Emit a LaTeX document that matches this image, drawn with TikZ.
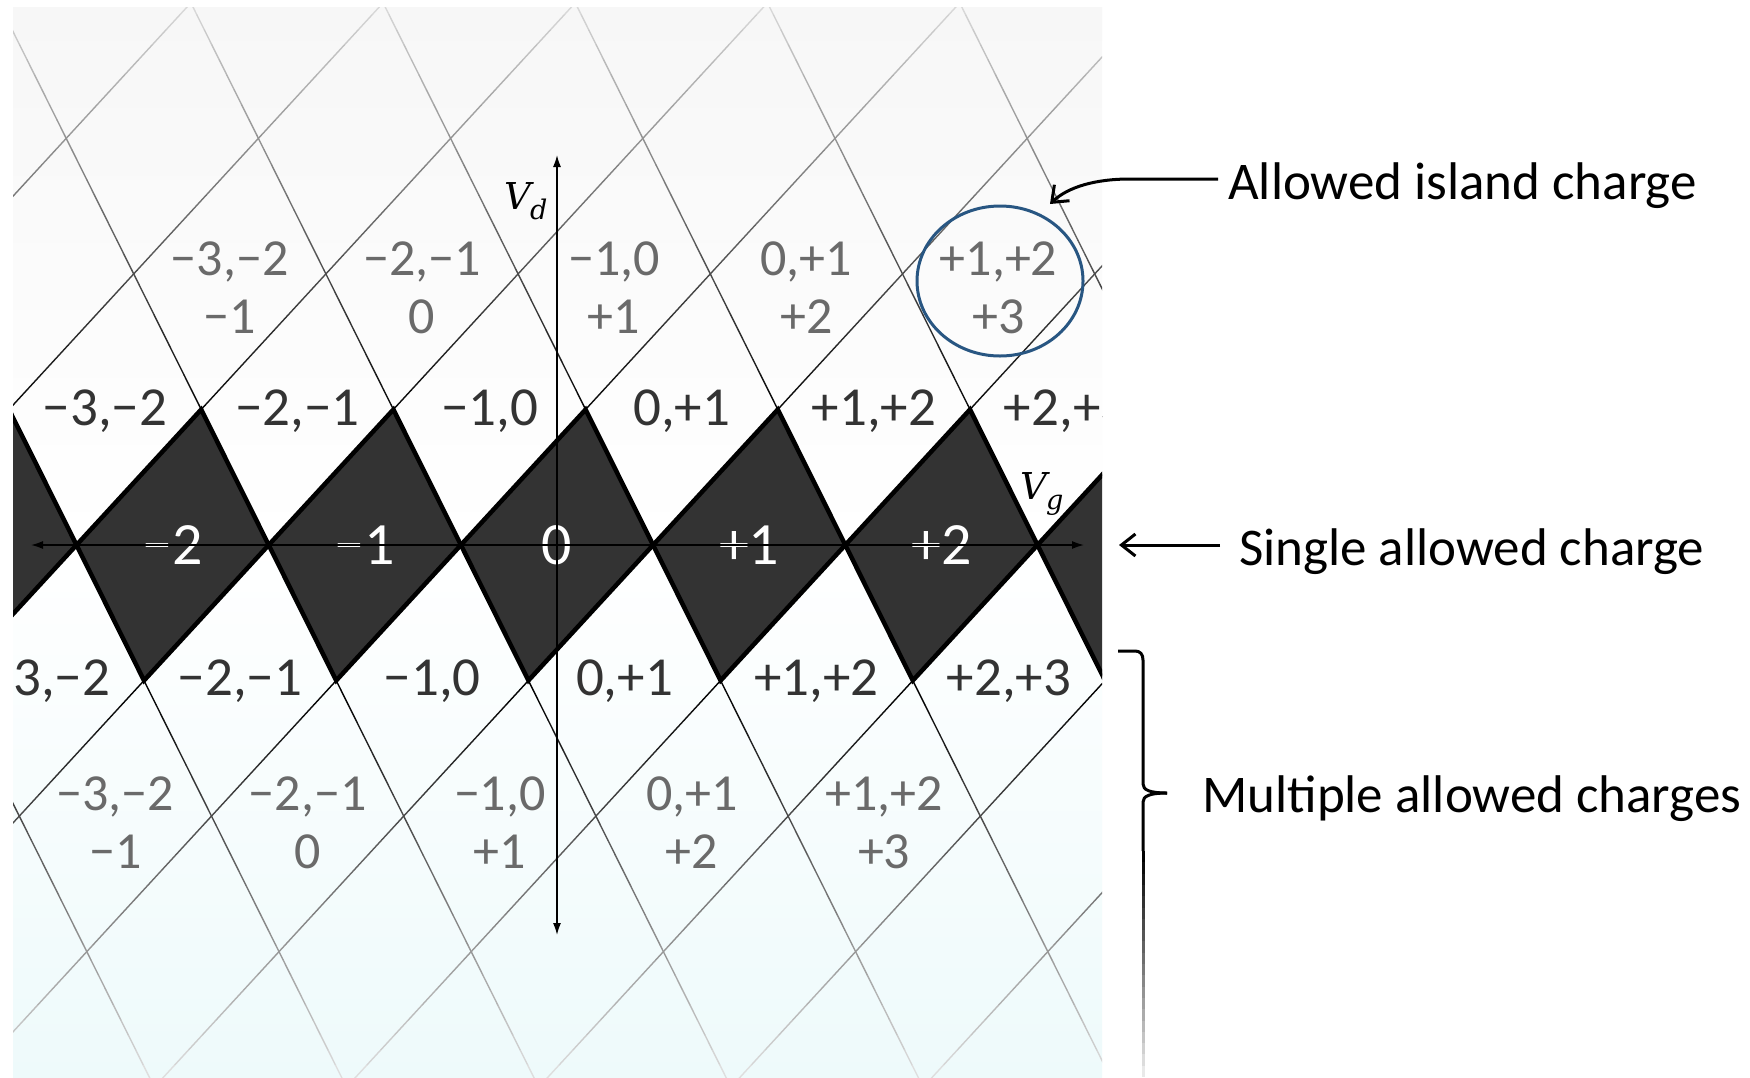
\RequirePackage{fix-cm}
\documentclass[tikz,border=0pt]{standalone}
\usepackage{fontspec}
\setmainfont{Carlito}
\newfontfamily\cdserif{DejaVu Serif}
\usepackage{tikz}
\usetikzlibrary{arrows.meta,calc,shapes.geometric}
\definecolor{cdedge}{RGB}{0,0,0}
\definecolor{cddia}{RGB}{51,51,51}
\definecolor{cdink}{RGB}{51,51,51}
\definecolor{cdgrey}{RGB}{106,106,106}
\definecolor{cdblue}{RGB}{40,86,130}
\definecolor{cdtop}{RGB}{247,247,247}
\definecolor{cdbot}{RGB}{238,250,251}
\tikzset{
  gline/.style={line width=1.4pt, line cap=round},
  dia/.style={fill=cddia, draw=cdedge, line width=4.5pt, line join=miter},
  lbl/.style={font=\fontsize{55}{60}\selectfont, text=cdink, inner sep=0pt, anchor=base},
  glbl/.style={font=\fontsize{52}{58}\selectfont, text=cdgrey, inner sep=0pt, anchor=base, align=center},
  wlbl/.style={font=\fontsize{60}{66}\selectfont, text=white, inner sep=0pt, anchor=base},
  axlbl/.style={font=\fontsize{37}{40}\selectfont\cdserif\itshape, inner sep=0pt},
  axarr/.style={{Latex[length=12pt,width=8pt]}-{Latex[length=12pt,width=8pt]}, draw=cdedge, line width=1.5pt},
  isl/.style={ellipse, draw=cdblue, line width=3pt, minimum width=166pt, minimum height=150pt, inner sep=0pt},
  anno/.style={font=\fontsize{53}{60}\selectfont, inner sep=0pt, anchor=west, text height=40pt, text depth=0pt},
  arr/.style={-{Straight Barb[length=14pt,width=22pt]}, draw=black, line width=3pt},
  brc/.style={draw=black, line width=3pt}
}
\newcommand{\cdsub}[1]{\raisebox{-10pt}{\fontsize{27}{30}\selectfont #1}}
\begin{document}
\begin{tikzpicture}[x=1pt, y=-1pt]
  \useasboundingbox (0,0) rectangle (1750,1077);
  \fill[white] (0,0) rectangle (1750,1077);
  \shade[top color=cdtop, bottom color=white] (13,7) rectangle (1102,545);
  \shade[top color=white, bottom color=cdbot] (13,545) rectangle (1102,1077);
  \begin{scope}
    \clip (13,7) rectangle (1102,1077);
    \foreach \j in {0,...,72} {
      \pgfmathsetmacro{\ya}{\j*15}
      \pgfmathsetmacro{\yb}{\ya+15}
      \pgfmathsetmacro{\ym}{\ya+7.5}
      \pgfmathsetmacro{\p}{\ym<420 ? max(15,15+(\ym-7)/413*85) : (\ym>690 ? max(12,100-(\ym-690)/387*88) : 100)}
      \pgfmathsetmacro{\da}{545-\ya}
      \pgfmathsetmacro{\db}{545-\yb}
      \foreach \k in {-5,...,6} {
        \pgfmathsetmacro{\xk}{557+192.2*(\k-0.5)}
        \draw[gline, draw=black!\p] ({\xk+0.92*\da},\ya) -- ({\xk+0.92*\db},\yb);
        \draw[gline, draw=black!\p] ({\xk-0.498*\da},\ya) -- ({\xk-0.498*\db},\yb);
      }
    }
    \foreach \k in {-3,...,3} {
      \pgfmathsetmacro{\xk}{557+192.2*(\k-0.5)}
      \filldraw[dia] (\xk,545) -- (\xk+124.7,409.5) -- (\xk+192.2,545) -- (\xk+67.5,680.5) -- cycle;
    }
    \foreach \k/\t [count=\i] in {-3/{−3,−2},-2/{−2,−1},-1/{−1,0},0/{0,+1},1/{+1,+2},2/{+2,+3}} {
      \pgfmathsetmacro{\xk}{557+192.2*(\k-0.5)}
      \node[lbl] (up\i) at (\xk+220.8,425) {\t};
      \node[lbl] (dn\i) at (\xk+163.6,695) {\t};
    }
    \foreach \k/\t [count=\i] in {-3/{−3,−2\\−1},-2/{−2,−1\\0},-1/{−1,0\\+1},0/{0,+1\\+2},1/{+1,+2\\+3}} {
      \pgfmathsetmacro{\xk}{557+192.2*(\k-0.5)}
      \node[glbl] (gu\i) at (\xk+345.4,333) {\t};
      \node[glbl] (gd\i) at (\xk+231.1,868) {\t};
    }
    \foreach \k/\t [count=\i] in {-2/−2,-1/−1,0/0,1/+1,2/+2} {
      \pgfmathsetmacro{\xk}{557+192.2*(\k-0.5)}
      \node[wlbl] (q\i) at (\xk+96.1,564) {\t};
    }
  \end{scope}
  \coordinate (vgL) at (31,545);
  \coordinate (vgR) at (1084,545);
  \coordinate (vdT) at (557,155);
  \coordinate (vdB) at (557,935);
  \draw[axarr] (vgL) -- (vgR);
  \draw[axarr] (vdB) -- (vdT);
  \node[axlbl] (vd) at (526,201) {V\kern-1pt\cdsub{d}};
  \node[axlbl] (vg) at (1042,494) {V\kern-1pt\cdsub{g}};
  \node[isl] (islCirc) at (1000,281) {};
  \node[anno] (islText) at (1228,179) {Allowed island charge};
  \node[anno] (sglText) at (1239,545) {Single allowed charge};
  \node[anno] (mulText) at (1202,792) {Multiple allowed charges};
  \coordinate (islTip) at (1050,204);
  \coordinate (sglTip) at (1119,545);
  \coordinate (brTip) at (1167,793);
  \draw[arr, shorten <=10pt] (islText.west) -- (1130,179) .. controls (1095,179) and (1068,187) .. (islTip);
  \draw[arr, shorten <=19pt] (sglText.west) -- (sglTip);
  \draw[brc] (1118,651) -- (1135,651) .. controls (1140,651) and (1143,654) .. (1143,660) -- (1143,784) .. controls (1143,790) and (1150,793) .. (brTip);
  \draw[brc] (brTip) .. controls (1150,793) and (1143,796) .. (1143,802) -- (1143,851);
  \foreach \j in {0,...,19} {
    \pgfmathsetmacro{\p}{100-4.8*\j}
    \draw[brc, draw=black!\p] (1143,851+11.3*\j) -- (1143,862.3+11.3*\j);
  }
\end{tikzpicture}
\end{document}
